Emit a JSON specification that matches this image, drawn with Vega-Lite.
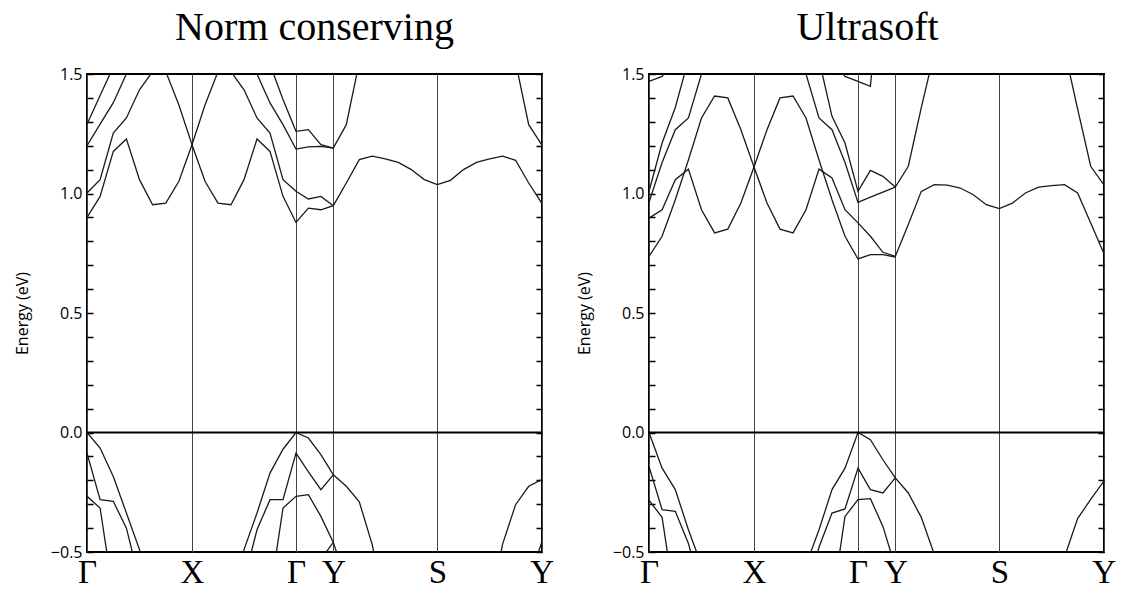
{
  "$schema": "https://vega.github.io/schema/vega-lite/v6.json",
  "background": "white",
  "padding": {"left": 13, "top": 7, "right": 5, "bottom": 5},
  "spacing": 20,
  "config": {
    "view": {"stroke": "black", "strokeWidth": 2},
    "font": "Open Sans"
  },
  "datasets": {
    "bands": [
      {"p":"NC","b":"c1","k":0,"E":0.90},{"p":"NC","b":"c1","k":13.1,"E":0.988},{"p":"NC","b":"c1","k":26.3,"E":1.176},{"p":"NC","b":"c1","k":39.4,"E":1.228},{"p":"NC","b":"c1","k":52.5,"E":1.058},{"p":"NC","b":"c1","k":65.6,"E":0.953},{"p":"NC","b":"c1","k":78.8,"E":0.96},{"p":"NC","b":"c1","k":91.9,"E":1.051},{"p":"NC","b":"c1","k":105,"E":1.204},{"p":"NC","b":"c1","k":118,"E":1.051},{"p":"NC","b":"c1","k":131,"E":0.96},{"p":"NC","b":"c1","k":144,"E":0.953},{"p":"NC","b":"c1","k":157,"E":1.058},{"p":"NC","b":"c1","k":170,"E":1.228},{"p":"NC","b":"c1","k":183,"E":1.176},{"p":"NC","b":"c1","k":196,"E":0.988},{"p":"NC","b":"c1","k":209,"E":0.879},{"p":"NC","b":"c1","k":221.4,"E":0.939},{"p":"NC","b":"c1","k":233.9,"E":0.932},{"p":"NC","b":"c1","k":246.3,"E":0.949},{"p":"NC","b":"c1","k":259.3,"E":1.044},{"p":"NC","b":"c1","k":272.3,"E":1.142},{"p":"NC","b":"c1","k":285.3,"E":1.156},{"p":"NC","b":"c1","k":298.3,"E":1.145},{"p":"NC","b":"c1","k":311.3,"E":1.13},{"p":"NC","b":"c1","k":324.3,"E":1.1},{"p":"NC","b":"c1","k":337.3,"E":1.058},{"p":"NC","b":"c1","k":350.3,"E":1.037},{"p":"NC","b":"c1","k":363.4,"E":1.055},{"p":"NC","b":"c1","k":376.5,"E":1.1},{"p":"NC","b":"c1","k":389.5,"E":1.13},{"p":"NC","b":"c1","k":402.6,"E":1.145},{"p":"NC","b":"c1","k":415.6,"E":1.156},{"p":"NC","b":"c1","k":428.6,"E":1.139},{"p":"NC","b":"c1","k":441.7,"E":1.044},{"p":"NC","b":"c1","k":454.7,"E":0.96},
      {"p":"NC","b":"c2","k":0,"E":1.002},{"p":"NC","b":"c2","k":13.1,"E":1.058},{"p":"NC","b":"c2","k":26.3,"E":1.253},{"p":"NC","b":"c2","k":39.4,"E":1.316},{"p":"NC","b":"c2","k":52.5,"E":1.434},{"p":"NC","b":"c2","k":65.6,"E":1.51},{"p":"NC","b":"c2","k":78.8,"E":1.51},{"p":"NC","b":"c2","k":91.9,"E":1.37},{"p":"NC","b":"c2","k":105,"E":1.204},{"p":"NC","b":"c2","k":118,"E":1.37},{"p":"NC","b":"c2","k":131,"E":1.51},{"p":"NC","b":"c2","k":144,"E":1.51},{"p":"NC","b":"c2","k":157,"E":1.434},{"p":"NC","b":"c2","k":170,"E":1.316},{"p":"NC","b":"c2","k":183,"E":1.253},{"p":"NC","b":"c2","k":196,"E":1.058},{"p":"NC","b":"c2","k":209,"E":1.009},{"p":"NC","b":"c2","k":221.4,"E":0.977},{"p":"NC","b":"c2","k":233.9,"E":0.988},{"p":"NC","b":"c2","k":246.3,"E":0.949},
      {"p":"NC","b":"c3a","k":0,"E":1.2},{"p":"NC","b":"c3a","k":13.1,"E":1.29},{"p":"NC","b":"c3a","k":26.3,"E":1.38},{"p":"NC","b":"c3a","k":39.4,"E":1.5},{"p":"NC","b":"c3a","k":52.5,"E":1.62},
      {"p":"NC","b":"c3b","k":157,"E":1.62},{"p":"NC","b":"c3b","k":170,"E":1.5},{"p":"NC","b":"c3b","k":183,"E":1.379},{"p":"NC","b":"c3b","k":196,"E":1.288},{"p":"NC","b":"c3b","k":209,"E":1.186},{"p":"NC","b":"c3b","k":221.4,"E":1.195},{"p":"NC","b":"c3b","k":233.9,"E":1.197},{"p":"NC","b":"c3b","k":246.3,"E":1.19},{"p":"NC","b":"c3b","k":259.3,"E":1.288},{"p":"NC","b":"c3b","k":272.3,"E":1.55},
      {"p":"NC","b":"c4a","k":0,"E":1.29},{"p":"NC","b":"c4a","k":13.1,"E":1.41},{"p":"NC","b":"c4a","k":26.3,"E":1.53},{"p":"NC","b":"c4a","k":39.4,"E":1.65},
      {"p":"NC","b":"c4b","k":170,"E":1.66},{"p":"NC","b":"c4b","k":183,"E":1.54},{"p":"NC","b":"c4b","k":196,"E":1.393},{"p":"NC","b":"c4b","k":209,"E":1.26},{"p":"NC","b":"c4b","k":221.4,"E":1.267},{"p":"NC","b":"c4b","k":233.9,"E":1.204},{"p":"NC","b":"c4b","k":246.3,"E":1.19},
      {"p":"NC","b":"c5","k":428.6,"E":1.55},{"p":"NC","b":"c5","k":441.7,"E":1.288},{"p":"NC","b":"c5","k":454.7,"E":1.204},
      {"p":"NC","b":"v1a","k":0,"E":0},{"p":"NC","b":"v1a","k":13.1,"E":-0.065},{"p":"NC","b":"v1a","k":26.3,"E":-0.184},{"p":"NC","b":"v1a","k":39.4,"E":-0.337},{"p":"NC","b":"v1a","k":52.5,"E":-0.49},{"p":"NC","b":"v1a","k":65.6,"E":-0.72},
      {"p":"NC","b":"v1b","k":144,"E":-0.72},{"p":"NC","b":"v1b","k":157,"E":-0.49},{"p":"NC","b":"v1b","k":170,"E":-0.337},{"p":"NC","b":"v1b","k":183,"E":-0.17},{"p":"NC","b":"v1b","k":196,"E":-0.07},{"p":"NC","b":"v1b","k":209,"E":0},{"p":"NC","b":"v1b","k":221.4,"E":-0.023},{"p":"NC","b":"v1b","k":233.9,"E":-0.093},{"p":"NC","b":"v1b","k":246.3,"E":-0.177},{"p":"NC","b":"v1b","k":259.3,"E":-0.225},{"p":"NC","b":"v1b","k":272.3,"E":-0.29},{"p":"NC","b":"v1b","k":285.3,"E":-0.47},{"p":"NC","b":"v1b","k":298.3,"E":-0.75},
      {"p":"NC","b":"v2a","k":0,"E":-0.086},{"p":"NC","b":"v2a","k":13.1,"E":-0.281},{"p":"NC","b":"v2a","k":26.3,"E":-0.288},{"p":"NC","b":"v2a","k":39.4,"E":-0.4},{"p":"NC","b":"v2a","k":52.5,"E":-0.62},
      {"p":"NC","b":"v2b","k":157,"E":-0.62},{"p":"NC","b":"v2b","k":170,"E":-0.407},{"p":"NC","b":"v2b","k":183,"E":-0.281},{"p":"NC","b":"v2b","k":196,"E":-0.281},{"p":"NC","b":"v2b","k":209,"E":-0.086},{"p":"NC","b":"v2b","k":221.4,"E":-0.165},{"p":"NC","b":"v2b","k":233.9,"E":-0.239},{"p":"NC","b":"v2b","k":246.3,"E":-0.177},
      {"p":"NC","b":"v3a","k":0,"E":-0.267},{"p":"NC","b":"v3a","k":13.1,"E":-0.316},{"p":"NC","b":"v3a","k":26.3,"E":-0.68},
      {"p":"NC","b":"v3b","k":183,"E":-0.68},{"p":"NC","b":"v3b","k":196,"E":-0.316},{"p":"NC","b":"v3b","k":209,"E":-0.267},{"p":"NC","b":"v3b","k":221.4,"E":-0.26},{"p":"NC","b":"v3b","k":233.9,"E":-0.351},{"p":"NC","b":"v3b","k":246.3,"E":-0.46},{"p":"NC","b":"v3b","k":259.3,"E":-0.62},
      {"p":"NC","b":"v4","k":233.9,"E":-0.53},{"p":"NC","b":"v4","k":246.3,"E":-0.46},
      {"p":"NC","b":"v5","k":402.6,"E":-0.75},{"p":"NC","b":"v5","k":415.6,"E":-0.467},{"p":"NC","b":"v5","k":428.6,"E":-0.302},{"p":"NC","b":"v5","k":441.7,"E":-0.225},{"p":"NC","b":"v5","k":454.7,"E":-0.197},
      {"p":"NC","b":"v6","k":441.7,"E":-0.62},{"p":"NC","b":"v6","k":454.7,"E":-0.46},

      {"p":"US","b":"c1","k":0,"E":0.897},{"p":"US","b":"c1","k":13.1,"E":0.932},{"p":"US","b":"c1","k":26.3,"E":1.058},{"p":"US","b":"c1","k":39.4,"E":1.102},{"p":"US","b":"c1","k":52.5,"E":0.932},{"p":"US","b":"c1","k":65.6,"E":0.835},{"p":"US","b":"c1","k":78.8,"E":0.851},{"p":"US","b":"c1","k":91.9,"E":0.96},{"p":"US","b":"c1","k":105,"E":1.111},{"p":"US","b":"c1","k":118,"E":0.96},{"p":"US","b":"c1","k":131,"E":0.851},{"p":"US","b":"c1","k":144,"E":0.835},{"p":"US","b":"c1","k":157,"E":0.932},{"p":"US","b":"c1","k":170,"E":1.102},{"p":"US","b":"c1","k":183,"E":1.065},{"p":"US","b":"c1","k":196,"E":0.932},{"p":"US","b":"c1","k":209,"E":0.877},{"p":"US","b":"c1","k":221.4,"E":0.821},{"p":"US","b":"c1","k":233.9,"E":0.754},{"p":"US","b":"c1","k":246.3,"E":0.737},{"p":"US","b":"c1","k":259.3,"E":0.87},{"p":"US","b":"c1","k":272.3,"E":1.009},{"p":"US","b":"c1","k":285.3,"E":1.037},{"p":"US","b":"c1","k":298.3,"E":1.035},{"p":"US","b":"c1","k":311.3,"E":1.023},{"p":"US","b":"c1","k":324.3,"E":0.995},{"p":"US","b":"c1","k":337.3,"E":0.953},{"p":"US","b":"c1","k":350.3,"E":0.937},{"p":"US","b":"c1","k":363.4,"E":0.96},{"p":"US","b":"c1","k":376.5,"E":1.002},{"p":"US","b":"c1","k":389.5,"E":1.027},{"p":"US","b":"c1","k":402.6,"E":1.033},{"p":"US","b":"c1","k":415.6,"E":1.037},{"p":"US","b":"c1","k":428.6,"E":1.002},{"p":"US","b":"c1","k":441.7,"E":0.877},{"p":"US","b":"c1","k":454.7,"E":0.751},
      {"p":"US","b":"c2","k":0,"E":0.737},{"p":"US","b":"c2","k":13.1,"E":0.821},{"p":"US","b":"c2","k":26.3,"E":0.974},{"p":"US","b":"c2","k":39.4,"E":1.14},{"p":"US","b":"c2","k":52.5,"E":1.316},{"p":"US","b":"c2","k":65.6,"E":1.408},{"p":"US","b":"c2","k":78.8,"E":1.4},{"p":"US","b":"c2","k":91.9,"E":1.267},{"p":"US","b":"c2","k":105,"E":1.111},{"p":"US","b":"c2","k":118,"E":1.267},{"p":"US","b":"c2","k":131,"E":1.4},{"p":"US","b":"c2","k":144,"E":1.408},{"p":"US","b":"c2","k":157,"E":1.316},{"p":"US","b":"c2","k":170,"E":1.14},{"p":"US","b":"c2","k":183,"E":0.974},{"p":"US","b":"c2","k":196,"E":0.821},{"p":"US","b":"c2","k":209,"E":0.726},{"p":"US","b":"c2","k":221.4,"E":0.744},{"p":"US","b":"c2","k":233.9,"E":0.744},{"p":"US","b":"c2","k":246.3,"E":0.734},
      {"p":"US","b":"c3a","k":0,"E":0.963},{"p":"US","b":"c3a","k":13.1,"E":1.13},{"p":"US","b":"c3a","k":26.3,"E":1.267},{"p":"US","b":"c3a","k":39.4,"E":1.316},{"p":"US","b":"c3a","k":52.5,"E":1.5},{"p":"US","b":"c3a","k":65.6,"E":1.65},
      {"p":"US","b":"c3b","k":144,"E":1.65},{"p":"US","b":"c3b","k":157,"E":1.5},{"p":"US","b":"c3b","k":170,"E":1.316},{"p":"US","b":"c3b","k":183,"E":1.267},{"p":"US","b":"c3b","k":196,"E":1.13},{"p":"US","b":"c3b","k":209,"E":0.963},{"p":"US","b":"c3b","k":221.4,"E":0.985},{"p":"US","b":"c3b","k":233.9,"E":1.006},{"p":"US","b":"c3b","k":246.3,"E":1.027},
      {"p":"US","b":"c4a","k":0,"E":1.009},{"p":"US","b":"c4a","k":13.1,"E":1.211},{"p":"US","b":"c4a","k":26.3,"E":1.36},{"p":"US","b":"c4a","k":39.4,"E":1.56},
      {"p":"US","b":"c4b","k":170,"E":1.56},{"p":"US","b":"c4b","k":183,"E":1.323},{"p":"US","b":"c4b","k":196,"E":1.211},{"p":"US","b":"c4b","k":209,"E":1.009},{"p":"US","b":"c4b","k":221.4,"E":1.097},{"p":"US","b":"c4b","k":233.9,"E":1.072},{"p":"US","b":"c4b","k":246.3,"E":1.027},{"p":"US","b":"c4b","k":259.3,"E":1.114},{"p":"US","b":"c4b","k":272.3,"E":1.359},{"p":"US","b":"c4b","k":285.3,"E":1.59},
      {"p":"US","b":"c5a","k":0,"E":1.469},{"p":"US","b":"c5a","k":13.1,"E":1.49},{"p":"US","b":"c5a","k":26.3,"E":1.56},
      {"p":"US","b":"c5b","k":183,"E":1.56},{"p":"US","b":"c5b","k":196,"E":1.49},{"p":"US","b":"c5b","k":209,"E":1.469},{"p":"US","b":"c5b","k":221.4,"E":1.448},{"p":"US","b":"c5b","k":233.9,"E":2.0},
      {"p":"US","b":"c6","k":415.6,"E":1.6},{"p":"US","b":"c6","k":428.6,"E":1.354},{"p":"US","b":"c6","k":441.7,"E":1.114},{"p":"US","b":"c6","k":454.7,"E":1.037},
      {"p":"US","b":"v1a","k":0,"E":0},{"p":"US","b":"v1a","k":13.1,"E":-0.149},{"p":"US","b":"v1a","k":26.3,"E":-0.239},{"p":"US","b":"v1a","k":39.4,"E":-0.407},{"p":"US","b":"v1a","k":52.5,"E":-0.555},
      {"p":"US","b":"v1b","k":157,"E":-0.555},{"p":"US","b":"v1b","k":170,"E":-0.407},{"p":"US","b":"v1b","k":183,"E":-0.239},{"p":"US","b":"v1b","k":196,"E":-0.149},{"p":"US","b":"v1b","k":209,"E":0},{"p":"US","b":"v1b","k":221.4,"E":-0.03},{"p":"US","b":"v1b","k":233.9,"E":-0.114},{"p":"US","b":"v1b","k":246.3,"E":-0.19},{"p":"US","b":"v1b","k":259.3,"E":-0.253},{"p":"US","b":"v1b","k":272.3,"E":-0.355},{"p":"US","b":"v1b","k":285.3,"E":-0.51},
      {"p":"US","b":"v2a","k":0,"E":-0.142},{"p":"US","b":"v2a","k":13.1,"E":-0.323},{"p":"US","b":"v2a","k":26.3,"E":-0.33},{"p":"US","b":"v2a","k":39.4,"E":-0.464},{"p":"US","b":"v2a","k":52.5,"E":-0.67},
      {"p":"US","b":"v2b","k":157,"E":-0.7},{"p":"US","b":"v2b","k":170,"E":-0.48},{"p":"US","b":"v2b","k":183,"E":-0.337},{"p":"US","b":"v2b","k":196,"E":-0.32},{"p":"US","b":"v2b","k":209,"E":-0.149},{"p":"US","b":"v2b","k":221.4,"E":-0.239},{"p":"US","b":"v2b","k":233.9,"E":-0.253},{"p":"US","b":"v2b","k":246.3,"E":-0.19},
      {"p":"US","b":"v3a","k":0,"E":-0.283},{"p":"US","b":"v3a","k":13.1,"E":-0.355},{"p":"US","b":"v3a","k":26.3,"E":-0.72},
      {"p":"US","b":"v3b","k":183,"E":-0.72},{"p":"US","b":"v3b","k":196,"E":-0.351},{"p":"US","b":"v3b","k":209,"E":-0.281},{"p":"US","b":"v3b","k":221.4,"E":-0.277},{"p":"US","b":"v3b","k":233.9,"E":-0.393},{"p":"US","b":"v3b","k":246.3,"E":-0.563},
      {"p":"US","b":"v4","k":402.6,"E":-0.72},{"p":"US","b":"v4","k":415.6,"E":-0.52},{"p":"US","b":"v4","k":428.6,"E":-0.36},{"p":"US","b":"v4","k":441.7,"E":-0.28},{"p":"US","b":"v4","k":454.7,"E":-0.204}
    ]
  },
  "hconcat": [
    {
      "width": 455,
      "height": 478,
      "title": {"text": "Norm conserving", "font": "Liberation Serif", "fontSize": 40, "fontWeight": "normal", "color": "black", "frame": "group", "anchor": "middle", "baseline": "alphabetic", "offset": -14},
      "layer": [
        {
          "data": {"name": "bands"},
          "transform": [{"filter": "datum.p === 'NC'"}],
          "mark": {"type": "line", "clip": true, "color": "#1a1a1a", "strokeWidth": 1.3},
          "encoding": {
            "x": {"field": "k", "type": "quantitative", "scale": {"domain": [0, 455], "nice": false, "zero": false},
              "axis": {"values": [0, 105, 209, 246.3, 350.3, 454.7], "grid": true, "gridColor": "#444", "gridWidth": 1, "ticks": false, "domain": false, "labelExpr": "datum.value < 50 ? 'Γ' : datum.value < 150 ? 'X' : datum.value < 230 ? 'Γ' : datum.value < 300 ? 'Y' : datum.value < 400 ? 'S' : 'Y'", "labelFont": "Liberation Serif", "labelFontSize": 33, "labelColor": "black", "labelPadding": 4, "labelFlush": false, "labelOverlap": false, "labelBound": false, "title": null}},
            "y": {"field": "E", "type": "quantitative", "scale": {"domain": [-0.5, 1.5], "nice": false, "zero": false},
              "axis": {"orient": "left", "values": [-0.5, 0, 0.5, 1, 1.5], "format": ".1f", "ticks": false, "domain": false, "grid": false, "labelFont": "Open Sans", "labelFontSize": 16, "labelColor": "black", "labelPadding": 5, "title": "Energy (eV)", "titleFont": "Open Sans", "titleFontSize": 16, "titleFontWeight": "normal", "titleColor": "black", "titlePadding": 20}},
            "detail": {"field": "b"}
          }
        },
        {
          "data": {"name": "bands"},
          "transform": [{"filter": "datum.p === 'NC'"}],
          "mark": {"type": "line", "opacity": 0, "clip": true},
          "encoding": {
            "x": {"field": "k", "type": "quantitative", "scale": {"domain": [0, 455], "nice": false, "zero": false},
              "axis": {"values": [0, 105, 209, 246.3, 350.3, 454.7], "grid": true, "gridColor": "#444", "gridWidth": 1, "ticks": false, "domain": false, "labelExpr": "datum.value < 50 ? 'Γ' : datum.value < 150 ? 'X' : datum.value < 230 ? 'Γ' : datum.value < 300 ? 'Y' : datum.value < 400 ? 'S' : 'Y'", "labelFont": "Liberation Serif", "labelFontSize": 33, "labelColor": "black", "labelPadding": 4, "labelFlush": false, "labelOverlap": false, "labelBound": false, "title": null}},
            "y": {"field": "E", "type": "quantitative", "scale": {"domain": [-0.5, 1.5], "nice": false, "zero": false},
              "axis": {"orient": "left", "values": [-0.5,-0.4,-0.3,-0.2,-0.1,0,0.1,0.2,0.3,0.4,0.5,0.6,0.7,0.8,0.9,1,1.1,1.2,1.3,1.4,1.5], "labels": false, "ticks": false, "domain": false, "grid": true, "gridColor": "black", "gridWidth": 1.5, "gridDash": [6, 443, 6, 1000], "title": null}},
            "detail": {"field": "b"}
          }
        },
        {
          "data": {"values": [{}]},
          "mark": {"type": "rule", "color": "black", "strokeWidth": 2},
          "encoding": {"y": {"datum": 0, "type": "quantitative", "scale": {"domain": [-0.5, 1.5], "nice": false, "zero": false}, "axis": null}}
        }
      ],
      "resolve": {"scale": {"y": "independent"}}
    },
    {
      "width": 455,
      "height": 478,
      "title": {"text": "Ultrasoft", "font": "Liberation Serif", "fontSize": 40, "fontWeight": "normal", "color": "black", "frame": "group", "anchor": "middle", "baseline": "alphabetic", "offset": -14, "dx": -9},
      "layer": [
        {
          "data": {"name": "bands"},
          "transform": [{"filter": "datum.p === 'US'"}],
          "mark": {"type": "line", "clip": true, "color": "#1a1a1a", "strokeWidth": 1.3},
          "encoding": {
            "x": {"field": "k", "type": "quantitative", "scale": {"domain": [0, 455], "nice": false, "zero": false},
              "axis": {"values": [0, 105, 209, 246.3, 350.3, 454.7], "grid": true, "gridColor": "#444", "gridWidth": 1, "ticks": false, "domain": false, "labelExpr": "datum.value < 50 ? 'Γ' : datum.value < 150 ? 'X' : datum.value < 230 ? 'Γ' : datum.value < 300 ? 'Y' : datum.value < 400 ? 'S' : 'Y'", "labelFont": "Liberation Serif", "labelFontSize": 33, "labelColor": "black", "labelPadding": 4, "labelFlush": false, "labelOverlap": false, "labelBound": false, "title": null}},
            "y": {"field": "E", "type": "quantitative", "scale": {"domain": [-0.5, 1.5], "nice": false, "zero": false},
              "axis": {"orient": "left", "values": [-0.5, 0, 0.5, 1, 1.5], "format": ".1f", "ticks": false, "domain": false, "grid": false, "labelFont": "Open Sans", "labelFontSize": 16, "labelColor": "black", "labelPadding": 5, "title": "Energy (eV)", "titleFont": "Open Sans", "titleFontSize": 16, "titleFontWeight": "normal", "titleColor": "black", "titlePadding": 20}},
            "detail": {"field": "b"}
          }
        },
        {
          "data": {"name": "bands"},
          "transform": [{"filter": "datum.p === 'US'"}],
          "mark": {"type": "line", "opacity": 0, "clip": true},
          "encoding": {
            "x": {"field": "k", "type": "quantitative", "scale": {"domain": [0, 455], "nice": false, "zero": false},
              "axis": {"values": [0, 105, 209, 246.3, 350.3, 454.7], "grid": true, "gridColor": "#444", "gridWidth": 1, "ticks": false, "domain": false, "labelExpr": "datum.value < 50 ? 'Γ' : datum.value < 150 ? 'X' : datum.value < 230 ? 'Γ' : datum.value < 300 ? 'Y' : datum.value < 400 ? 'S' : 'Y'", "labelFont": "Liberation Serif", "labelFontSize": 33, "labelColor": "black", "labelPadding": 4, "labelFlush": false, "labelOverlap": false, "labelBound": false, "title": null}},
            "y": {"field": "E", "type": "quantitative", "scale": {"domain": [-0.5, 1.5], "nice": false, "zero": false},
              "axis": {"orient": "left", "values": [-0.5,-0.4,-0.3,-0.2,-0.1,0,0.1,0.2,0.3,0.4,0.5,0.6,0.7,0.8,0.9,1,1.1,1.2,1.3,1.4,1.5], "labels": false, "ticks": false, "domain": false, "grid": true, "gridColor": "black", "gridWidth": 1.5, "gridDash": [6, 443, 6, 1000], "title": null}},
            "detail": {"field": "b"}
          }
        },
        {
          "data": {"values": [{}]},
          "mark": {"type": "rule", "color": "black", "strokeWidth": 2},
          "encoding": {"y": {"datum": 0, "type": "quantitative", "scale": {"domain": [-0.5, 1.5], "nice": false, "zero": false}, "axis": null}}
        }
      ],
      "resolve": {"scale": {"y": "independent"}}
    }
  ]
}
